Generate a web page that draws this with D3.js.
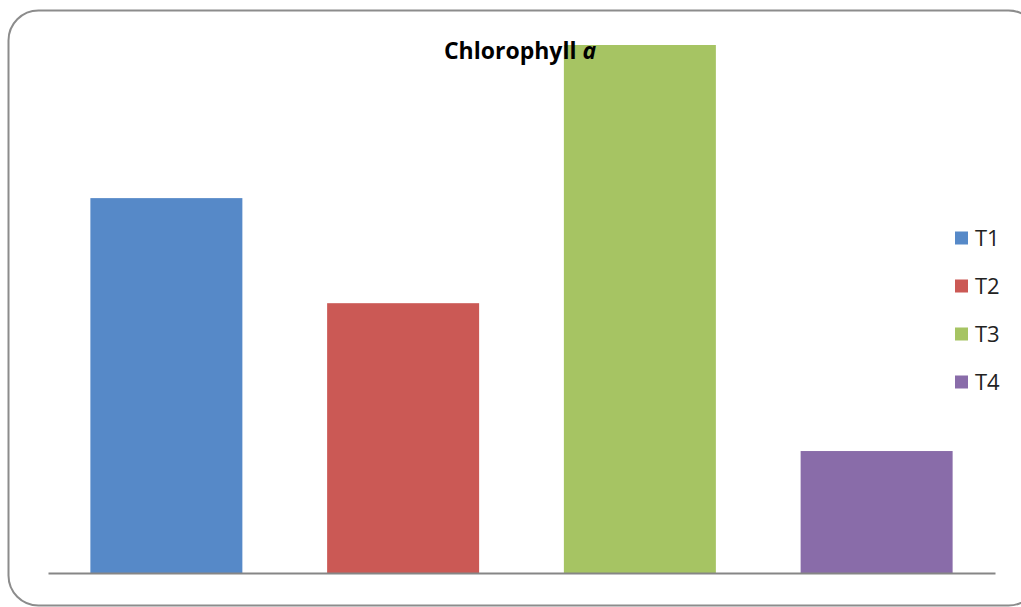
<!DOCTYPE html>
<html>
<head>
<meta charset="utf-8">
<script src="https://cdn.jsdelivr.net/npm/d3@7"></script>
<style>
  html, body { margin: 0; padding: 0; background: #fff; }
  svg { display: block; }
</style>
</head>
<body>
<script>
const categories = ["T1", "T2", "T3", "T4"];
const values = [7.10, 5.11, 10.0, 2.31];
const colors = ["#5689c8", "#cb5955", "#a6c463", "#896ca9"];
const titleMain = "Chlorophyll ";
const titleItalic = "a";

const W = 1021, H = 607;
const svg = d3.select("body").append("svg").attr("width", W).attr("height", H);

svg.append("rect").attr("x", 8.5).attr("y", 10.5).attr("width", 1030).attr("height", 595)
  .attr("rx", 30).attr("ry", 30)
  .attr("fill", "#fff").attr("stroke", "#8c8c8c").attr("stroke-width", 2);

const plot = { left: 48, right: 995, top: 45, bottom: 573 };
const x = d3.scaleBand().domain(categories).range([plot.left, plot.right])
  .paddingInner(0.358).paddingOuter(0.179);
const y = d3.scaleLinear().domain([0, 10]).range([plot.bottom, plot.top]);

svg.selectAll("rect.bar").data(categories).enter().append("rect")
  .attr("class", "bar")
  .attr("x", d => x(d))
  .attr("width", x.bandwidth())
  .attr("y", (d, i) => y(values[i]))
  .attr("height", (d, i) => y(0) - y(values[i]))
  .attr("fill", (d, i) => colors[i]);

const axis = d3.axisBottom(x).tickSize(0).tickFormat("");
const ag = svg.append("g").attr("transform", `translate(0,${plot.bottom})`).call(axis);
ag.select(".domain").attr("stroke", "#868686").attr("stroke-width", 2);

const title = svg.append("text").attr("x", 520).attr("y", 59)
  .attr("text-anchor", "middle")
  .attr("font-family", "'Open Sans', 'Liberation Sans', sans-serif")
  .attr("font-size", 23).attr("font-weight", "bold").attr("fill", "#000");
title.append("tspan").text(titleMain);
title.append("tspan").attr("font-style", "italic").text(titleItalic);

const legend = svg.append("g");
const ly = d3.scalePoint().domain(categories).range([238, 382]);
categories.forEach((c, i) => {
  legend.append("rect").attr("x", 955).attr("y", ly(c) - 6.5).attr("width", 13).attr("height", 13)
    .attr("fill", colors[i]);
  legend.append("text").attr("x", 975).attr("y", ly(c) + 8)
    .attr("font-family", "'Open Sans', 'Liberation Sans', sans-serif")
    .attr("font-size", 22).attr("fill", "#222").text(c);
});
</script>
</body>
</html>
